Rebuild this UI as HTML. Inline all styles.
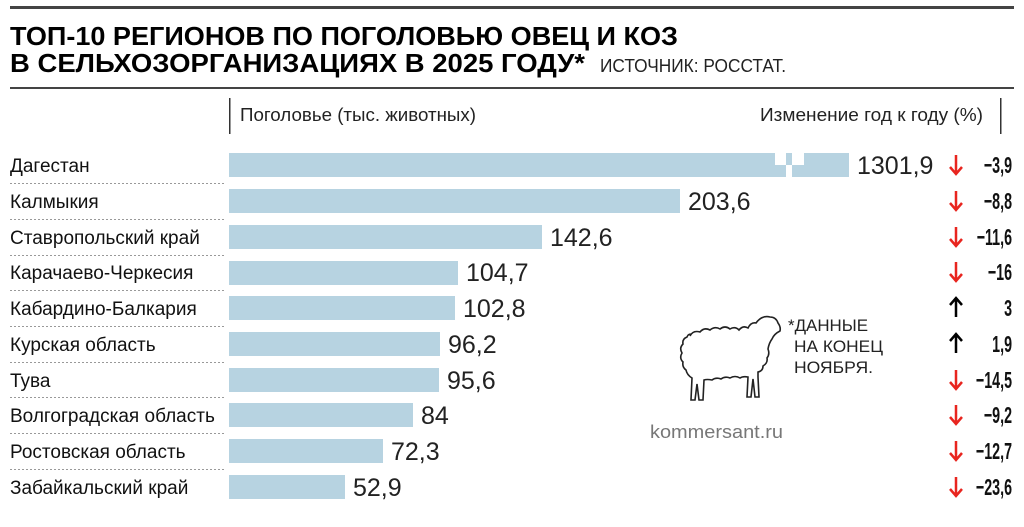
<!DOCTYPE html>
<html><head><meta charset="utf-8"><style>
html,body{margin:0;padding:0;background:#fff;}
svg{display:block;font-family:"Liberation Sans",sans-serif;}
</style></head><body>
<svg width="1024" height="527" viewBox="0 0 1024 527" xmlns="http://www.w3.org/2000/svg">
<rect x="10" y="6" width="1004" height="3" fill="#444"/>
<text x="10" y="45" font-size="26" font-weight="bold" textLength="668" lengthAdjust="spacingAndGlyphs" fill="#000">ТОП-10 РЕГИОНОВ ПО ПОГОЛОВЬЮ ОВЕЦ И КОЗ</text>
<text x="10" y="72" font-size="26" font-weight="bold" textLength="575" lengthAdjust="spacingAndGlyphs" fill="#000">В СЕЛЬХОЗОРГАНИЗАЦИЯХ В 2025 ГОДУ*</text>
<text x="600" y="72" font-size="18" textLength="186" lengthAdjust="spacingAndGlyphs" fill="#222">ИСТОЧНИК: РОССТАТ.</text>
<rect x="10" y="87" width="1004" height="2" fill="#444"/>
<rect x="229" y="98" width="1.5" height="36" fill="#333"/>
<rect x="1000" y="98" width="1.5" height="36" fill="#333"/>
<text x="240" y="121" font-size="18" textLength="236" lengthAdjust="spacingAndGlyphs" fill="#222">Поголовье (тыс. животных)</text>
<text x="760" y="121" font-size="18" textLength="223" lengthAdjust="spacingAndGlyphs" fill="#222">Изменение год к году (%)</text>
<g fill="#b7d3e1">
<rect x="229" y="153" width="546" height="24"/>
<rect x="775" y="165" width="11" height="12"/>
<rect x="786" y="153" width="6" height="12"/>
<rect x="792" y="165" width="12" height="12"/>
<rect x="804" y="153" width="45" height="24"/>
<rect x="229" y="189" width="451" height="24"/>
<rect x="229" y="225" width="313" height="24"/>
<rect x="229" y="261" width="229" height="24"/>
<rect x="229" y="296" width="226" height="24"/>
<rect x="229" y="332" width="211" height="24"/>
<rect x="229" y="368" width="210" height="24"/>
<rect x="229" y="403" width="184" height="24"/>
<rect x="229" y="439" width="154" height="24"/>
<rect x="229" y="475" width="116" height="24"/>
</g>
<g stroke="#999" stroke-width="1" stroke-dasharray="2,2">
<line x1="10" y1="183.5" x2="226" y2="183.5"/>
<line x1="10" y1="219.5" x2="226" y2="219.5"/>
<line x1="10" y1="255.5" x2="226" y2="255.5"/>
<line x1="10" y1="290.5" x2="226" y2="290.5"/>
<line x1="10" y1="326.5" x2="226" y2="326.5"/>
<line x1="10" y1="362.5" x2="226" y2="362.5"/>
<line x1="10" y1="397.5" x2="226" y2="397.5"/>
<line x1="10" y1="433.5" x2="226" y2="433.5"/>
<line x1="10" y1="469.5" x2="226" y2="469.5"/>
</g>
<g font-size="19" fill="#111">
<text x="10" y="172">Дагестан</text>
<text x="10" y="208">Калмыкия</text>
<text x="10" y="244">Ставропольский край</text>
<text x="10" y="279">Карачаево-Черкесия</text>
<text x="10" y="315">Кабардино-Балкария</text>
<text x="10" y="351">Курская область</text>
<text x="10" y="387">Тува</text>
<text x="10" y="422">Волгоградская область</text>
<text x="10" y="458">Ростовская область</text>
<text x="10" y="494">Забайкальский край</text>
</g>
<g font-size="25" fill="#222">
<text x="857" y="174">1301,9</text>
<text x="688" y="210">203,6</text>
<text x="550" y="246">142,6</text>
<text x="466" y="281">104,7</text>
<text x="463" y="317">102,8</text>
<text x="448" y="353">96,2</text>
<text x="447" y="389">95,6</text>
<text x="421" y="424">84</text>
<text x="391" y="460">72,3</text>
<text x="353" y="496">52,9</text>
</g>
<g stroke-width="2.5" fill="none">
<g stroke="#e8251f">
<path d="M956 155v18M950 167l6 7 6-7"/>
<path d="M956 191v18M950 203l6 7 6-7"/>
<path d="M956 227v18M950 239l6 7 6-7"/>
<path d="M956 262v18M950 274l6 7 6-7"/>
<path d="M956 370v18M950 382l6 7 6-7"/>
<path d="M956 405v18M950 417l6 7 6-7"/>
<path d="M956 441v18M950 453l6 7 6-7"/>
<path d="M956 477v18M950 489l6 7 6-7"/>
</g>
<g stroke="#000">
<path d="M956 317v-18M950 305l6-7 6 7"/>
<path d="M956 353v-18M950 341l6-7 6 7"/>
</g>
</g>
<g font-size="23" font-weight="bold" fill="#111" text-anchor="end">
<text transform="translate(1012,173) scale(0.62,1)">−3,9</text>
<text transform="translate(1012,209) scale(0.62,1)">−8,8</text>
<text transform="translate(1012,245) scale(0.62,1)">−11,6</text>
<text transform="translate(1012,280) scale(0.62,1)">−16</text>
<text transform="translate(1012,316) scale(0.62,1)">3</text>
<text transform="translate(1012,352) scale(0.62,1)">1,9</text>
<text transform="translate(1012,388) scale(0.62,1)">−14,5</text>
<text transform="translate(1012,423) scale(0.62,1)">−9,2</text>
<text transform="translate(1012,459) scale(0.62,1)">−12,7</text>
<text transform="translate(1012,495) scale(0.62,1)">−23,6</text>
</g>
<path d="M690 336 q3-6 10-4 q4-5 10-2 q5-4 10-1 q5-4 10 0 q5-3 9 1 q4-5 9-2 q3-6 8-5 q6-8 14-6 q6 0 8 6 q3 4 2 8 q-6 3-8 8 q-3 4-4 10 q2 5-1 9 q1 5-4 8 q0 5-5 6 l0 5 l1 20 l-4 0 l-2-18 l-2 18 l-4 0 l1-20 q-5-1-8 1 q-5-3-10 0 q-5-2-9 1 q-5-2-9 1 q-5-1-8 0 l-1 20 l-4 0 l-2-16 l-2 16 l-4 0 l1-22 q-5-3-6-8 q-4-3-3-8 q-4-4-1-9 q-3-5 1-9 q-1-5 4-7 q1-3 4-3 z" fill="none" stroke="#222" stroke-width="1.6"/>
<g font-size="17" fill="#222">
<text x="788" y="331" textLength="80" lengthAdjust="spacingAndGlyphs">*ДАННЫЕ</text>
<text x="794" y="352" textLength="89" lengthAdjust="spacingAndGlyphs">НА КОНЕЦ</text>
<text x="794" y="373" textLength="79" lengthAdjust="spacingAndGlyphs">НОЯБРЯ.</text>
</g>
<text x="650" y="438" font-size="18" fill="#777" textLength="133" lengthAdjust="spacingAndGlyphs">kommersant.ru</text>
</svg>
</body></html>
